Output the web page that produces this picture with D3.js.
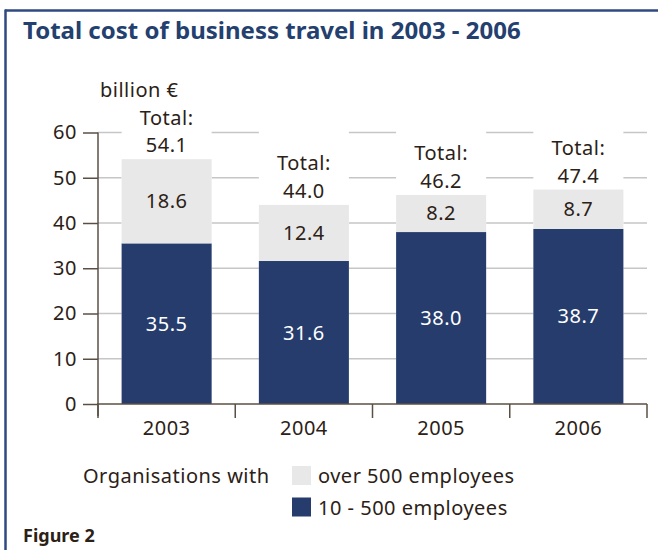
<!DOCTYPE html>
<html>
<head>
<meta charset="utf-8">
<script src="https://cdn.jsdelivr.net/npm/d3@7"></script>
<style>
  html, body { margin: 0; padding: 0; background: #fff; }
  svg { display: block; }
  text { font-family: "Noto Sans", "Open Sans", sans-serif; fill: #2b2116; }
  .lbl { font-size: 20px; letter-spacing: 0.5px; }
</style>
</head>
<body>
<svg id="chart" width="658" height="550"></svg>
<script>
// Total cost of business travel, billion euro, by organisation size
const years = ["2003", "2004", "2005", "2006"];
const smallOrgs = [35.5, 31.6, 38.0, 38.7];   // 10 - 500 employees
const largeOrgs = [18.6, 12.4, 8.2, 8.7];     // over 500 employees
const totals = [54.1, 44.0, 46.2, 47.4];
const yTicks = [0, 10, 20, 30, 40, 50, 60];
const legendLabels = ["over 500 employees", "10 - 500 employees"];

const BLUE = "#253c6d", GREY = "#e8e8e8", GRID = "#c6c6c6", AXIS = "#5b4f43";
const FRAME = "#2f4a80", TITLE = "#24406f";

const svg = d3.select("#chart");

// frame: top rule and left rule
svg.append("line").attr("x1", 5).attr("x2", 658).attr("y1", 10.5).attr("y2", 10.5)
  .attr("stroke", FRAME).attr("stroke-width", 2.5);
svg.append("line").attr("x1", 5.5).attr("x2", 5.5).attr("y1", 9.5).attr("y2", 550)
  .attr("stroke", FRAME).attr("stroke-width", 2.5);

svg.append("text").attr("x", 23).attr("y", 39)
  .style("font-size", "24px").style("font-weight", "bold").style("fill", TITLE)
  .text("Total cost of business travel in 2003 - 2006");

svg.append("text").attr("class", "lbl").attr("x", 100).attr("y", 97).text("billion €");

const x = d3.scaleBand().domain(years).range([98, 647]).paddingInner(0.344).paddingOuter(0.172);
const y = d3.scaleLinear().domain([0, 60]).range([404, 132.5]);

// gridlines
svg.append("g").selectAll("line").data(yTicks.filter(d => d > 0)).join("line")
  .attr("x1", 98).attr("x2", 647).attr("y1", d => y(d)).attr("y2", d => y(d))
  .attr("stroke", GRID).attr("stroke-width", 1.5);

// blank columns behind each bar so gridlines run only between bars
svg.append("g").selectAll("rect").data(years).join("rect")
  .attr("x", d => x(d)).attr("width", x.bandwidth())
  .attr("y", y(60) - 2).attr("height", y(0) - y(60) + 2).attr("fill", "#fff");

const stacked = years.map((yr, i) => ({ yr, small: smallOrgs[i], large: largeOrgs[i], total: totals[i] }));

const bars = svg.append("g").selectAll("g").data(stacked).join("g");
bars.append("rect").attr("x", d => x(d.yr)).attr("width", x.bandwidth())
  .attr("y", d => y(d.small)).attr("height", d => y(0) - y(d.small)).attr("fill", BLUE);
bars.append("rect").attr("x", d => x(d.yr)).attr("width", x.bandwidth())
  .attr("y", d => y(d.small + d.large)).attr("height", d => y(d.small) - y(d.small + d.large)).attr("fill", GREY);

const cx = d => x(d.yr) + x.bandwidth() / 2;
bars.append("text").attr("class", "lbl").attr("x", cx).attr("y", d => (y(0) + y(d.small)) / 2)
  .attr("dy", "0.35em").attr("text-anchor", "middle").style("fill", "#fff")
  .text(d => d.small.toFixed(1));
bars.append("text").attr("class", "lbl").attr("x", cx).attr("y", d => (y(d.small) + y(d.small + d.large)) / 2)
  .attr("dy", "0.35em").attr("text-anchor", "middle")
  .text(d => d.large.toFixed(1));

// two-line total label above each bar
bars.append("text").attr("class", "lbl").attr("x", cx).attr("y", d => y(d.total) - 14)
  .attr("dy", "0.35em").attr("text-anchor", "middle")
  .text(d => d.total.toFixed(1));
bars.append("text").attr("class", "lbl").attr("x", cx).attr("y", d => y(d.total) - 41.5)
  .attr("dy", "0.35em").attr("text-anchor", "middle")
  .text("Total:");

// y axis
const yAxis = svg.append("g").attr("transform", "translate(98,0)")
  .call(d3.axisLeft(y).tickValues(yTicks).tickSize(15).tickPadding(6).tickFormat(d3.format("d")));
yAxis.select(".domain").remove();
yAxis.selectAll(".tick line").attr("stroke", AXIS).attr("stroke-width", 1.5);
yAxis.selectAll(".tick text").attr("class", "lbl").style("font-family", null).attr("font-size", null).attr("fill", null);
svg.append("line").attr("x1", 98).attr("x2", 98).attr("y1", y(60)).attr("y2", 416)
  .attr("stroke", AXIS).attr("stroke-width", 1.5);

// x axis
const xAxis = svg.append("g").attr("transform", "translate(0,404)")
  .call(d3.axisBottom(x).tickSize(0).tickPadding(17));
xAxis.select(".domain").remove();
xAxis.selectAll(".tick text").attr("class", "lbl").style("font-family", null).attr("font-size", null).attr("fill", null);
svg.append("line").attr("x1", 97).attr("x2", 647).attr("y1", 404).attr("y2", 404)
  .attr("stroke", AXIS).attr("stroke-width", 1.5);
const bounds = d3.range(years.length + 1).map(i => 98 + i * x.step());
svg.append("g").selectAll("line").data(bounds).join("line")
  .attr("x1", d => d).attr("x2", d => d).attr("y1", 404).attr("y2", 418)
  .attr("stroke", AXIS).attr("stroke-width", 1.5);

// legend
svg.append("text").attr("class", "lbl").attr("x", 83).attr("y", 483).text("Organisations with");
const legend = svg.append("g").selectAll("g").data(legendLabels).join("g")
  .attr("transform", (d, i) => `translate(292,${466 + i * 31.5})`);
legend.append("rect").attr("width", 19).attr("height", 19).attr("fill", (d, i) => i === 0 ? GREY : BLUE);
legend.append("text").attr("class", "lbl").attr("x", 26).attr("y", 17).text(d => d);

svg.append("text").attr("x", 23).attr("y", 542).style("font-size", "18px").style("font-weight", "bold")
  .text("Figure 2");
</script>
</body>
</html>
